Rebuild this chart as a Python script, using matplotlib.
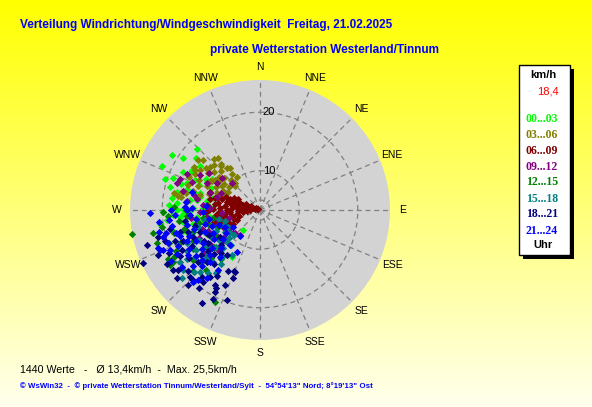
import numpy as np
import matplotlib
matplotlib.use("Agg")
import matplotlib.pyplot as plt
from matplotlib.patches import Rectangle

# ---- values ----
title = "Verteilung Windrichtung/Windgeschwindigkeit  Freitag, 21.02.2025"
subtitle = "private Wetterstation Westerland/Tinnum"
directions = ["N", "NNE", "NE", "ENE", "E", "ESE", "SE", "SSE",
              "S", "SSW", "SW", "WSW", "W", "WNW", "NW", "NNW"]
r_min, r_max = 3.3, 25.5          # km/h at centre / at rim
ring_values = [5, 10, 20]
ring_labels = ["", "10", "20"]
n_values = 1440
mean_speed = "13,4"
max_speed = "25,5"
current_speed = "18,4"

hour_bins = ["00...03", "03...06", "06...09", "09...12",
             "12...15", "15...18", "18...21", "21...24"]
bin_colors = ["#00ff00", "#808000", "#800000", "#800080",
              "#008000", "#008080", "#000080", "#0000ff"]

# (direction deg, speed km/h) per 3-hour bin
pts_00_03 = [(314, 18.3), (302, 21.1), (294, 21.6), (309, 17.3), (296, 18.0), (306, 16.0),
             (298, 16.8), (290, 19.1), (284, 19.2), (282, 17.8), (290, 16.6), (275, 17.5),
             (271, 16.5), (278, 15.4), (282, 13.8), (272, 14.8), (272, 13.0), (265, 17.0),
             (264, 14.1), (261, 16.6), (267, 18.2), (262, 11.9), (260, 13.2), (269, 19.9),
             (257, 18.7), (264, 19.3), (304, 19.2), (300, 16.8), (220, 7.8), (211, 12.7),
             (285, 15.0), (280, 12.5), (276, 16.0), (268, 15.5), (274, 12.0), (286, 14.0),
             (292, 14.5), (288, 17.5), (295, 15.5), (300, 14.0), (278, 18.5), (270, 17.5),
             (258, 15.0), (255, 17.0), (266, 12.8), (284, 11.5), (262, 20.5), (298, 13.5),
             (303, 13.0), (294, 12.5), (252, 16.2), (288, 20.4), (279, 14.2), (273, 18.8),
             (286, 16.2), (267, 16.4)]
pts_03_06 = [(324, 12.1), (318, 15.1), (302, 16.3), (293, 9.8), (317, 9.6), (284, 13.9),
             (280, 17.5), (289, 16.3), (304, 12.5), (310, 13.5), (312, 11.5), (308, 15.0),
             (315, 12.8), (305, 14.2), (300, 13.2), (298, 11.8), (296, 14.8), (306, 10.8),
             (302, 11.0), (311, 16.2), (314, 14.3), (320, 13.6), (322, 11.0), (316, 10.5),
             (309, 12.2), (304, 15.6), (299, 15.9), (294, 13.2), (291, 14.6), (288, 12.4),
             (297, 10.4), (307, 9.9), (313, 9.2), (300, 9.6), (286, 15.2), (292, 11.2),
             (318, 13.3), (311, 14.6), (303, 16.8), (295, 16.7), (283, 16.2), (287, 10.6),
             (305, 11.9), (301, 12.8), (309, 17.0), (326, 10.2), (321, 14.8), (322, 12.5),
             (281, 18.3), (279, 17.0), (283, 17.0)]
pts_06_09 = [(292, 4.0), (285, 4.5), (278, 4.2), (288, 5.2), (280, 5.5), (272, 5.0),
             (294, 6.0), (286, 6.3), (279, 6.1), (271, 6.5), (264, 6.2), (290, 7.0),
             (283, 7.2), (276, 7.4), (268, 7.1), (260, 7.3), (253, 7.0), (287, 8.0),
             (281, 8.3), (274, 8.1), (266, 8.4), (258, 8.2), (250, 8.0), (290, 8.7),
             (284, 9.1), (277, 9.3), (270, 9.0), (263, 9.4), (256, 9.2), (248, 9.0),
             (286, 10.0), (280, 10.6), (273, 10.2), (266, 10.5), (259, 10.1), (252, 10.4),
             (285, 11.2), (278, 11.0), (271, 11.4), (263, 11.1), (259, 12.3), (290, 12.4),
             (282, 12.0), (275, 12.3), (268, 12.6), (246, 7.6), (242, 8.5), (282, 4.8),
             (275, 5.8), (267, 5.6), (291, 9.6), (294, 8.2), (297, 7.5), (262, 10.0),
             (255, 11.5), (270, 12.0), (276, 6.6), (283, 3.8), (287, 3.6), (296, 5.0)]
pts_09_12 = [(291, 18.0), (292, 15.9), (306, 14.0), (314, 10.0), (284, 16.9), (289, 12.3),
             (227, 9.1), (219, 8.8), (230, 9.4), (226, 13.2), (265, 9.8), (258, 10.8),
             (250, 11.2), (244, 10.2), (238, 9.5), (255, 8.8), (262, 12.5), (268, 13.5),
             (272, 11.8), (248, 12.8), (240, 12.0), (234, 11.0), (252, 13.8), (258, 14.5),
             (275, 13.0), (280, 14.2), (297, 13.4), (300, 15.2), (296, 17.2), (288, 18.2),
             (302, 12.0), (310, 11.8), (277, 15.8), (283, 14.8), (263, 15.2), (245, 14.8),
             (236, 13.6), (230, 11.8), (232, 15.5), (287, 11.0), (294, 10.5)]
pts_12_15 = [(258, 22.0), (260, 20.3), (252, 21.8), (259.5, 25.5), (239, 20.6), (206, 20.7),
             (215, 16.2), (269, 19.9), (266, 19.0), (255, 18.5), (262, 17.2), (248, 17.8),
             (244, 19.2), (252, 15.4), (258, 14.0), (265, 15.8), (240, 16.5), (236, 14.5),
             (246, 13.2), (254, 12.4), (233, 17.6), (228, 18.8), (242, 21.0), (262, 13.2),
             (250, 19.8), (226, 15.0), (238, 12.0), (256, 16.6), (270, 16.0), (272, 18.0),
             (245, 16.0), (231, 13.4), (218, 14.0), (222, 17.0), (260, 11.5), (248, 11.0),
             (238.6, 21.3), (241, 20.0)]
pts_15_18 = [(233, 11.8), (219, 13.6), (228, 15.6), (232, 20.0), (229, 20.9), (227, 18.8),
             (226, 11.2), (219.5, 17.3), (240, 12.8), (236, 14.2), (230, 13.0), (224, 12.4),
             (238, 16.2), (244, 14.8), (234, 17.0), (222, 15.2), (228, 16.8), (216, 14.6),
             (232, 9.8), (238, 10.4), (244, 11.6), (248, 13.4), (226, 9.5), (220, 11.0),
             (236, 18.4), (241, 17.6), (230, 15.0), (224, 18.0), (250, 15.8), (246, 17.0),
             (212, 12.4), (215, 16.5), (234, 12.0), (228, 10.5), (242, 9.4), (252, 12.0),
             (237, 19.5), (255, 14.2), (260, 12.8), (252, 9.6), (258, 10.4), (247, 9.9)]
pts_18_21 = [(253, 23.5), (245.6, 25.2), (255, 21.3), (212, 22.1), (208, 20.5), (200, 19.7),
             (211, 18.2), (208, 15.1), (201.6, 15.8), (202, 14.7), (216.7, 17.6), (218.4, 18.9),
             (223.7, 19.9), (226.3, 19.8), (235.4, 21.3), (208.8, 19.3), (209.5, 18.7),
             (203, 14.6), (240, 19.0), (245, 20.5), (250, 18.8), (255, 17.5), (236, 18.0),
             (230, 17.2), (226, 16.0), (220, 15.4), (242, 16.5), (248, 15.6), (252, 20.4),
             (258, 19.0), (232, 14.6), (238, 13.8), (244, 13.0), (250, 14.2), (222, 13.2),
             (216, 12.8), (228, 12.2), (234, 20.6), (240, 21.6), (246, 22.4), (256, 14.8),
             (262, 16.2), (230, 19.4), (224, 21.0), (218, 20.2), (213, 16.8), (248, 17.4),
             (241, 14.2), (236, 11.6), (226, 14.2), (205, 17.4), (230.7, 21.6), (243, 18.2),
             (233, 16.0), (221, 18.4), (253, 16.2)]
pts_21_24 = [(249.6, 21.9), (247.6, 21.2), (250.3, 20.0), (223, 20.1), (221.5, 19.3),
             (215, 15.8), (220.6, 11.2), (208.7, 11.5), (237.8, 8.7), (268.6, 22.1),
             (284.8, 15.3), (270, 15.8), (266.6, 17.8), (254.4, 20.5), (248.2, 21.7),
             (218, 18.0), (217.6, 8.9), (260, 18.6), (256, 19.8), (252, 17.6), (246, 18.6),
             (242, 19.4), (238, 17.8), (234, 16.8), (230, 18.2), (226, 17.0), (258, 16.0),
             (254, 15.0), (250, 16.2), (244, 15.4), (240, 14.6), (236, 15.2), (232, 13.8),
             (228, 14.8), (262, 14.4), (266, 15.2), (264, 19.0), (248, 13.4), (244, 12.2),
             (238, 12.6), (232, 11.4), (226, 12.6), (256, 13.0), (252, 12.0), (260, 12.2),
             (268, 13.0), (272, 15.0), (276, 16.0), (246, 20.2), (240, 20.8), (234, 19.8),
             (224, 15.6), (220, 13.8), (258, 21.0), (250, 10.8), (244, 10.0), (236, 10.4),
             (263, 20.6), (270, 18.5), (274, 12.6), (272.5, 16.1), (255, 18.2), (247, 16.8),
             (241, 17.2), (229, 16.4)]

groups = [pts_00_03, pts_03_06, pts_06_09, pts_09_12,
          pts_12_15, pts_15_18, pts_18_21, pts_21_24]

W, H = 592, 407


def fx(x):
    return x / W


def fy(y):
    return 1 - y / H


fig = plt.figure(figsize=(W / 100, H / 100), dpi=100)
plt.rcParams['font.family'] = ['Liberation Sans', 'DejaVu Sans']

# yellow -> cream background
bg = fig.add_axes([0, 0, 1, 1], zorder=-10)
grad = np.linspace(0.0, 0.93, 256)
img = np.ones((256, 1, 3))
img[:, 0, 2] = grad
bg.imshow(img, aspect='auto', extent=[0, 1, 0, 1], origin='upper')
bg.set_axis_off()

# polar rose
ax = fig.add_axes([fx(130), fy(340), 260 / W, 260 / H], projection='polar')
ax.set_facecolor('#d3d3d3')
ax.spines['polar'].set_visible(False)
ax.set_theta_zero_location('N')
ax.set_theta_direction(-1)
ax.set_rlim(r_min, r_max)
ax.set_xticks(np.radians(np.arange(16) * 22.5))
ax.set_xticklabels([])
ax.set_yticks(ring_values)
ax.set_yticklabels([])
ax.grid(True, color='#808080', linestyle=(0, (4, 3)), linewidth=0.9)

for pts, col in zip(groups, bin_colors):
    d = np.radians([p[0] for p in pts])
    s = [p[1] for p in pts]
    ax.scatter(d, s, marker='D', s=14, c=col, linewidths=0, clip_on=False, zorder=3)

for v, lab in zip(ring_values, ring_labels):
    if lab:
        ax.annotate(lab, xy=(0, v), xytext=(2, 0), textcoords='offset points',
                    ha='left', va='center', fontsize=8, color='black')

for i, name in enumerate(directions):
    a = np.radians(i * 22.5)
    ax.text(0.5 + 0.55 * np.sin(a), 0.5 + 0.55 * np.cos(a), name,
            transform=ax.transAxes, ha='center', va='center', fontsize=7.5)

# titles
fig.text(fx(20), fy(25), title, color='#0000ff', fontsize=8.5, fontweight='bold',
         ha='left', va='center')
fig.text(fx(210), fy(50), subtitle, color='#0000ff', fontsize=8.5, fontweight='bold',
         ha='left', va='center')

# legend box
fig.patches.append(Rectangle((fx(523), fy(259)), 51 / W, 190 / H, transform=fig.transFigure,
                             facecolor='black', edgecolor='none', zorder=1))
fig.patches.append(Rectangle((fx(519), fy(255)), 51 / W, 190 / H, transform=fig.transFigure,
                             facecolor='white', edgecolor='black', linewidth=1, zorder=2))
fig.text(fx(543), fy(75), "km/h", fontsize=8, fontweight='bold', ha='center', va='center')
fig.text(fx(548), fy(92), current_speed, fontsize=8, color='red', ha='center', va='center')
for i, (lab, col) in enumerate(zip(hour_bins, bin_colors)):
    fig.text(fx(542), fy(118.5 + 16 * i), lab, color=col, fontsize=8.5, fontweight='bold',
             family='Liberation Serif', ha='center', va='center')
fig.text(fx(543), fy(245), "Uhr", fontsize=8, fontweight='bold', ha='center', va='center')

# footer
fig.text(fx(20.5), fy(369),
         f"{n_values} Werte   -   Ø {mean_speed}km/h  -  Max. {max_speed}km/h",
         fontsize=7.7, ha='left', va='center')
fig.text(fx(20.5), fy(386),
         "© WsWin32  -  © private Wetterstation Tinnum/Westerland/Sylt  -  "
         "54°54'13\" Nord; 8°19'13\" Ost",
         fontsize=5.7, fontweight='bold', color='#0000ff', ha='left', va='center')

fig.savefig("out.png", dpi=100)
